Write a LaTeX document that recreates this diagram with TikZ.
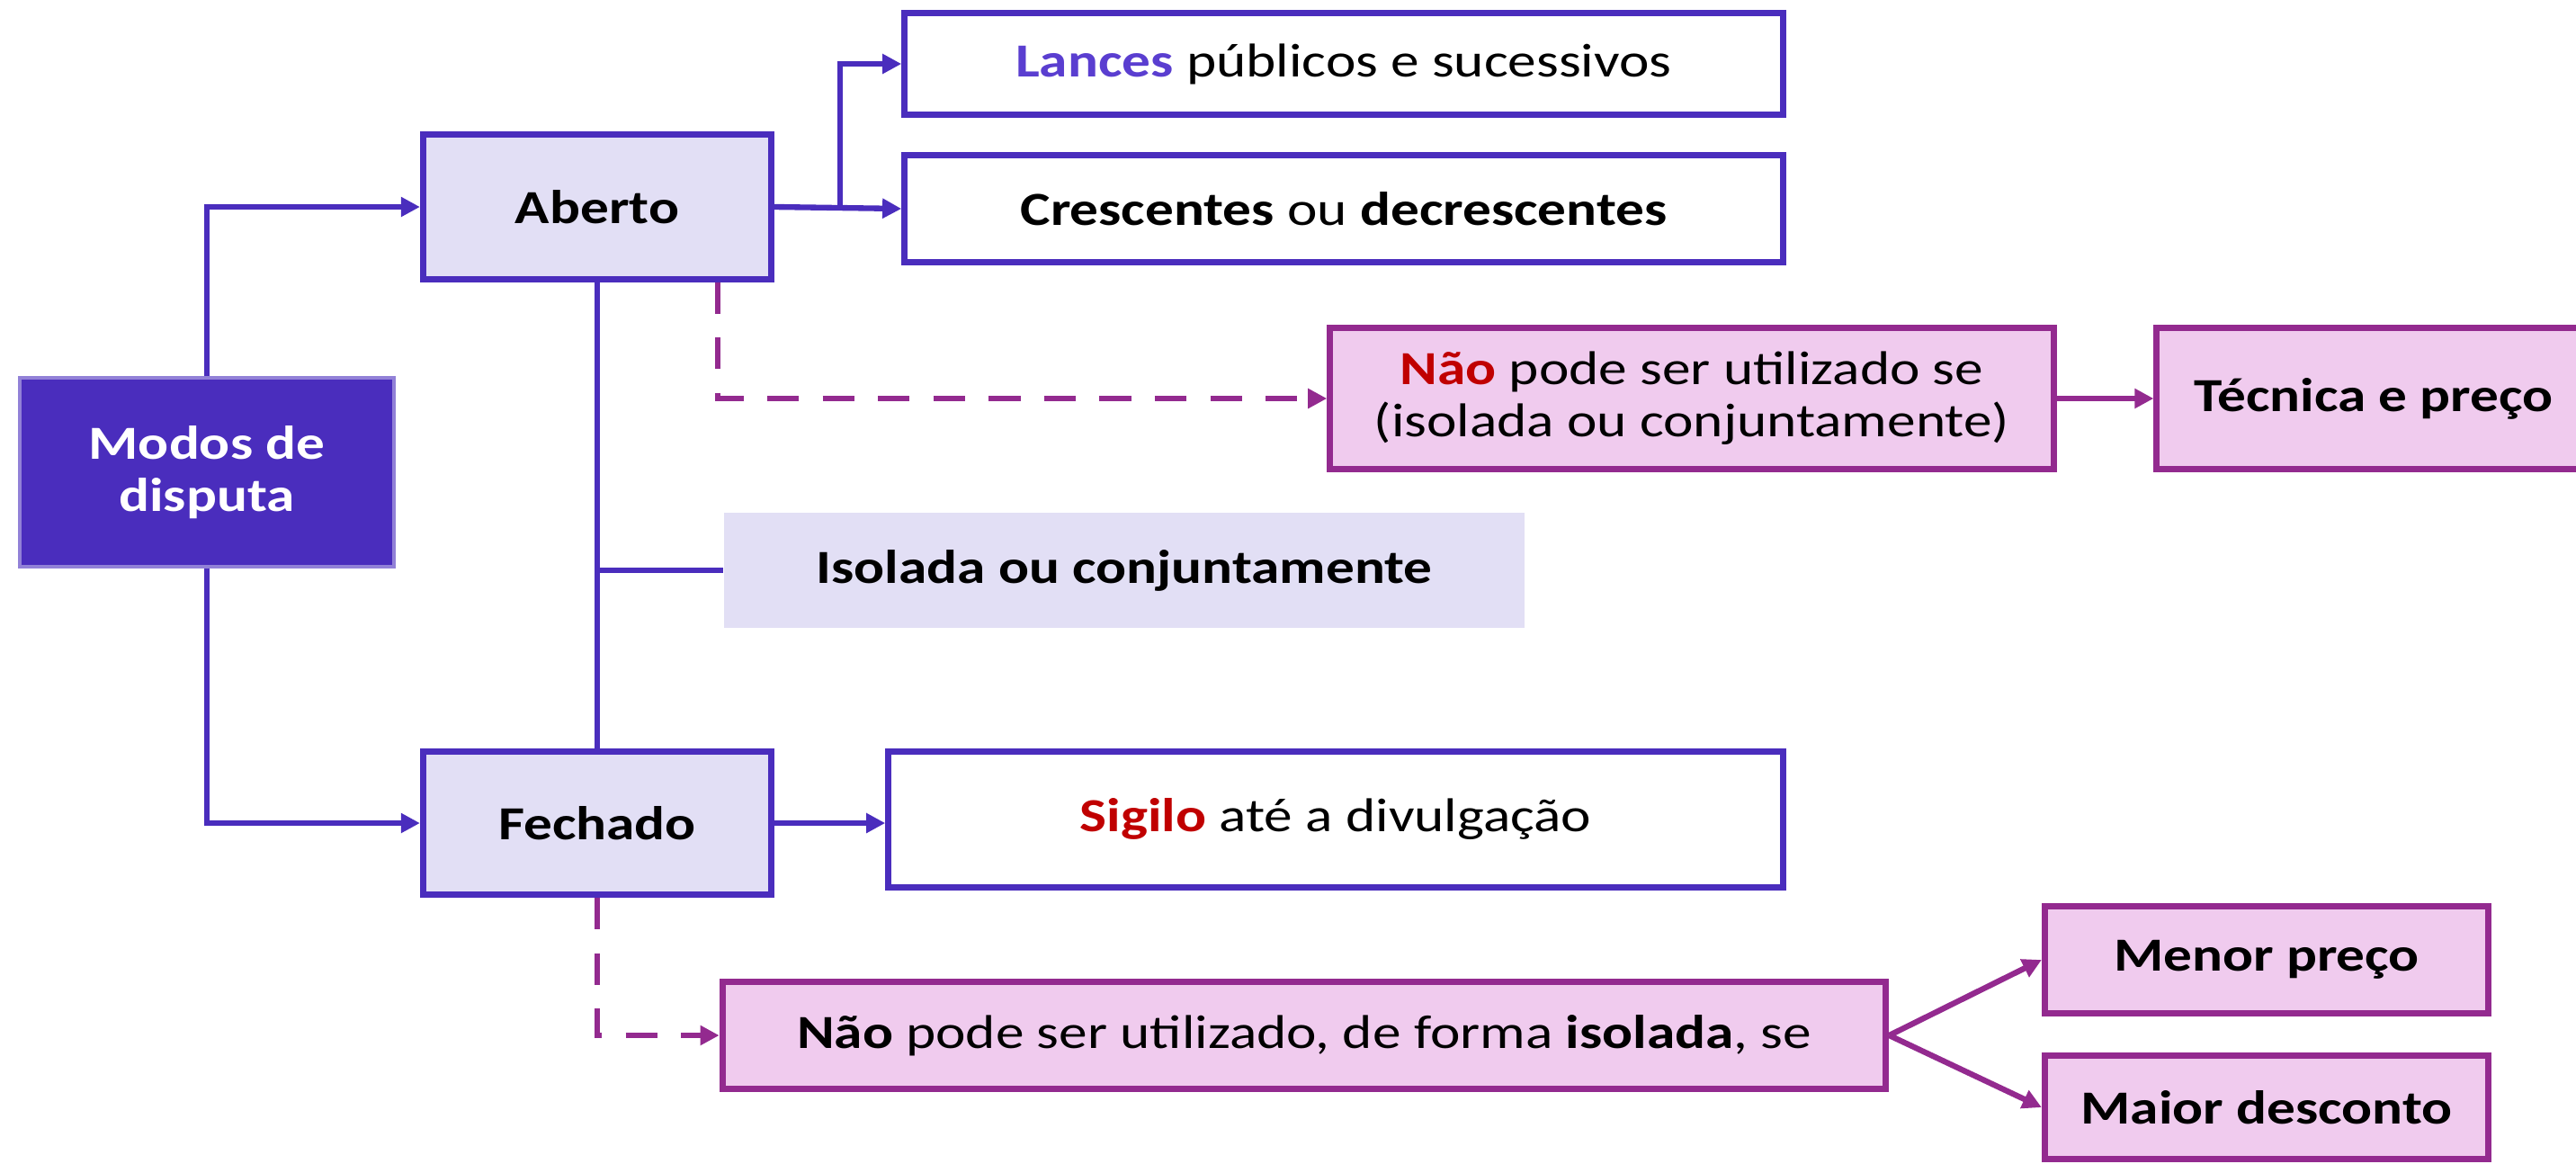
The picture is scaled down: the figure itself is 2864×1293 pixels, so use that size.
\documentclass[tikz,border=0pt]{standalone}
\usepackage{fontspec}
\setmainfont{Carlito}[FakeStretch=1.2]
\usetikzlibrary{arrows.meta,calc}

\definecolor{indigo}{HTML}{4A2DBD}
\definecolor{lavender}{HTML}{E2DFF5}
\definecolor{plum}{HTML}{932A8F}
\definecolor{pinkfill}{HTML}{F0CBEE}
\definecolor{darkred}{HTML}{C00000}
\definecolor{lancesblue}{HTML}{5A3ED0}

\begin{document}
\begin{tikzpicture}[
    x=0.01cm, y=-0.01cm,
    >={Triangle[length=6pt,width=6pt]},
    font=\fontsize{15}{16.5}\selectfont,
    root node/.style={fill=indigo,draw=indigo!60,line width=1pt,text=white,font=\fontsize{15}{16.5}\selectfont\bfseries,align=center,inner sep=0pt},
    mode node/.style={fill=lavender,draw=indigo,line width=2pt,font=\fontsize{15}{16.5}\selectfont\bfseries,inner sep=0pt},
    info node/.style={fill=white,draw=indigo,line width=2pt,inner sep=0pt},
    note node/.style={fill=lavender,font=\fontsize{15}{16.5}\selectfont\bfseries,inner sep=0pt},
    rule node/.style={fill=pinkfill,draw=plum,line width=2pt,align=center,inner sep=0pt},
    main edge/.style={->,indigo,line width=1.8pt},
    plain edge/.style={indigo,line width=1.8pt},
    rule edge/.style={->,plum,line width=1.8pt},
    dash edge/.style={->,plum,line width=1.8pt,dash pattern=on 10pt off 7.5pt}
]

\useasboundingbox (0,0) rectangle (2864,1293);
\clip (0,0) rectangle (2864,1293);

% Raiz
\node[root node,minimum width=4.16cm,minimum height=2.10cm] (modos) at (230,525) {Modos de\\disputa};

% Modo aberto
\node[mode node,minimum width=3.87cm,minimum height=1.60cm] (aberto) at (664,230) {Aberto};
\node[info node,minimum width=9.76cm,minimum height=1.13cm] (lances) at (1494,71) {\textcolor{lancesblue}{\textbf{Lances}} públicos e sucessivos};
\node[info node,minimum width=9.76cm,minimum height=1.19cm] (crescentes) at (1494,232) {\textbf{Crescentes} ou \textbf{decrescentes}};
\node[rule node,minimum width=8.04cm,minimum height=1.56cm] (naoaberto) at (1881,443) {\textcolor{darkred}{\textbf{Não}} pode ser utilizado se\\(isolada ou conjuntamente)};
\node[rule node,font=\fontsize{15}{16.5}\selectfont\bfseries,minimum width=4.82cm,minimum height=1.56cm] (tecnica) at (2639,443) {Técnica e preço};

% Combinação
\node[note node,minimum width=8.90cm,minimum height=1.28cm] (isolada) at (1250,634) {Isolada ou conjuntamente};

% Modo fechado
\node[mode node,minimum width=3.87cm,minimum height=1.59cm] (fechado) at (664,915) {Fechado};
\node[info node,minimum width=9.94cm,minimum height=1.50cm] (sigilo) at (1485,911) {\textcolor{darkred}{\textbf{Sigilo}} até a divulgação};
\node[rule node,minimum width=12.93cm,minimum height=1.19cm] (naofechado) at (1450,1151) {\textbf{Não} pode ser utilizado, de forma \textbf{isolada}, se};
\node[rule node,font=\fontsize{15}{16.5}\selectfont\bfseries,minimum width=4.93cm,minimum height=1.19cm] (menor) at (2520,1067) {Menor preço};
\node[rule node,font=\fontsize{15}{16.5}\selectfont\bfseries,minimum width=4.93cm,minimum height=1.15cm] (maior) at (2520,1231) {Maior desconto};

% Ligações da raiz
\draw[main edge] (modos.north) |- (aberto.west);
\draw[main edge] (modos.south) |- (fechado.west);

% Ligações do aberto
\coordinate (fork) at ($(aberto.east)+(73,0)$);
\draw[main edge] (aberto.east) -- (crescentes.west);
\draw[main edge] (fork) |- (lances.west);
\draw[plain edge] (aberto.south) -- (fechado.north);
\draw[plain edge] (aberto.south |- isolada.west) -- (isolada.west);
\coordinate (dashaberto) at ($(aberto.south)+(134,0)$);
\draw[dash edge] (dashaberto) |- (naoaberto.west);
\draw[rule edge] (naoaberto) -- (tecnica);

% Ligações do fechado
\draw[main edge] (fechado.east) -- (fechado.east -| sigilo.west);
\draw[dash edge] (fechado.south) |- (naofechado.west);
\draw[rule edge] (naofechado.east) -- (menor.west);
\draw[rule edge] (naofechado.east) -- (maior.west);

\end{tikzpicture}
\end{document}
